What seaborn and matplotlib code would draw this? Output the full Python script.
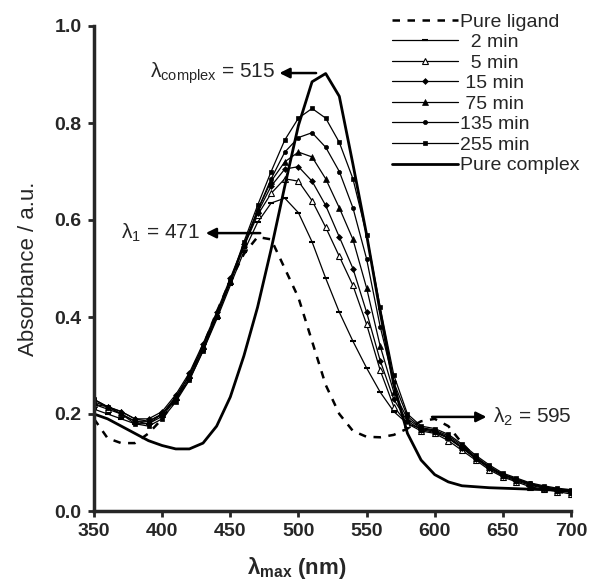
import matplotlib as mpl
import matplotlib.pyplot as plt
import numpy as np
import pandas as pd
import seaborn as sns

# wavelength grid (nm)
wavelength = np.arange(350, 701, 10)

pure_ligand = [0.19, 0.15, 0.14, 0.14, 0.16, 0.19, 0.23, 0.28, 0.34, 0.41, 0.475, 0.53,
               0.565, 0.56, 0.50, 0.44, 0.35, 0.26, 0.20, 0.165, 0.153, 0.152, 0.157, 0.17,
               0.185, 0.19, 0.175, 0.14, 0.11, 0.09, 0.075, 0.06, 0.05, 0.045, 0.04, 0.035]
min_2 = [0.21, 0.20, 0.19, 0.18, 0.18, 0.20, 0.23, 0.27, 0.33, 0.395, 0.465, 0.535,
         0.595, 0.635, 0.645, 0.615, 0.555, 0.48, 0.41, 0.35, 0.295, 0.245, 0.205, 0.18,
         0.17, 0.165, 0.15, 0.13, 0.11, 0.09, 0.075, 0.065, 0.055, 0.05, 0.045, 0.04]
min_5 = [0.22, 0.21, 0.20, 0.185, 0.185, 0.20, 0.235, 0.28, 0.34, 0.405, 0.475, 0.545,
         0.61, 0.655, 0.685, 0.68, 0.64, 0.585, 0.525, 0.465, 0.385, 0.29, 0.215, 0.18,
         0.165, 0.16, 0.145, 0.125, 0.105, 0.085, 0.07, 0.06, 0.05, 0.045, 0.04, 0.035]
min_15 = [0.22, 0.215, 0.205, 0.19, 0.19, 0.205, 0.24, 0.285, 0.345, 0.41, 0.48, 0.55,
          0.615, 0.67, 0.705, 0.71, 0.68, 0.63, 0.565, 0.50, 0.41, 0.31, 0.23, 0.185,
          0.168, 0.162, 0.15, 0.13, 0.108, 0.088, 0.072, 0.062, 0.053, 0.047, 0.042, 0.038]
min_75 = [0.225, 0.215, 0.205, 0.19, 0.185, 0.20, 0.235, 0.28, 0.34, 0.405, 0.475, 0.55,
          0.62, 0.68, 0.72, 0.74, 0.73, 0.685, 0.625, 0.56, 0.46, 0.34, 0.245, 0.19,
          0.17, 0.165, 0.152, 0.132, 0.11, 0.09, 0.074, 0.064, 0.055, 0.048, 0.043, 0.04]
min_135 = [0.23, 0.215, 0.20, 0.185, 0.18, 0.195, 0.23, 0.275, 0.335, 0.40, 0.47, 0.545,
           0.62, 0.685, 0.74, 0.77, 0.78, 0.75, 0.70, 0.625, 0.52, 0.38, 0.265, 0.195,
           0.172, 0.167, 0.155, 0.135, 0.112, 0.092, 0.076, 0.066, 0.057, 0.05, 0.045, 0.042]
min_255 = [0.23, 0.215, 0.20, 0.18, 0.175, 0.19, 0.225, 0.27, 0.33, 0.40, 0.475, 0.555,
           0.63, 0.70, 0.765, 0.81, 0.83, 0.81, 0.76, 0.685, 0.57, 0.42, 0.28, 0.20,
           0.175, 0.17, 0.158, 0.138, 0.115, 0.095, 0.078, 0.068, 0.058, 0.052, 0.047, 0.044]
pure_complex = [0.20, 0.19, 0.175, 0.16, 0.145, 0.135, 0.128, 0.128, 0.14, 0.175, 0.235, 0.32,
                0.42, 0.54, 0.67, 0.795, 0.885, 0.902, 0.855, 0.715, 0.57, 0.41, 0.26, 0.16,
                0.105, 0.075, 0.06, 0.052, 0.05, 0.048, 0.047, 0.046, 0.045, 0.044, 0.043, 0.042]

series_labels = ["Pure ligand", "  2 min", "  5 min", " 15 min", " 75 min",
                 "135 min", "255 min", "Pure complex"]
series_values = [pure_ligand, min_2, min_5, min_15, min_75, min_135, min_255, pure_complex]

lambda_complex = 515
lambda_1 = 471
lambda_2 = 595

sns.set_style("ticks")
plt.rcParams['font.family'] = ['Liberation Sans', 'DejaVu Sans']
plt.rcParams['mathtext.fontset'] = 'custom'
plt.rcParams['mathtext.rm'] = 'Liberation Sans'
plt.rcParams['mathtext.bf'] = 'Liberation Sans:bold'
plt.rcParams['mathtext.default'] = 'regular'

# line styles per series
styles = [
    dict(ls=(0, (3, 3)), lw=1.8, marker=None),
    dict(ls='-', lw=0.9, marker='_', ms=5, mew=1.5, mfc='black'),
    dict(ls='-', lw=0.9, marker='^', ms=4, mew=0.8, mfc='white'),
    dict(ls='-', lw=0.9, marker='D', ms=3, mew=0.5, mfc='black'),
    dict(ls='-', lw=0.9, marker='^', ms=4, mew=0.5, mfc='black'),
    dict(ls='-', lw=0.9, marker='o', ms=3, mew=0.5, mfc='black'),
    dict(ls='-', lw=0.9, marker='s', ms=3.5, mew=0.5, mfc='black'),
    dict(ls='-', lw=2.0, marker=None),
]

fig = plt.figure(figsize=(5.92, 5.84), dpi=100)
ax = fig.add_axes([94 / 592, 73 / 584, 477 / 592, 485 / 584])

for label, vals, st in zip(series_labels, series_values, styles):
    df = pd.DataFrame({'wavelength': wavelength, 'absorbance': vals})
    sns.lineplot(data=df, x='wavelength', y='absorbance', ax=ax, color='black',
                 linestyle=st['ls'], linewidth=st['lw'], marker=st['marker'],
                 markersize=st.get('ms', 0), markeredgewidth=st.get('mew', 0),
                 markerfacecolor=st.get('mfc', 'black'), markeredgecolor='black',
                 label=label, legend=False)

ax.set_xlim(350, 700)
ax.set_ylim(0, 1.0)
ax.set_xticks(np.arange(350, 701, 50))
ax.set_yticks(np.arange(0, 1.01, 0.2))
ax.set_yticklabels([f"{v:.1f}" for v in np.arange(0, 1.01, 0.2)])
ax.tick_params(axis='both', which='major', width=2, length=4, labelsize=14, pad=5)
for lab in ax.get_xticklabels() + ax.get_yticklabels():
    lab.set_fontweight('bold')
ax.spines['top'].set_visible(False)
ax.spines['right'].set_visible(False)
ax.spines['bottom'].set_linewidth(2.5)
ax.spines['left'].set_linewidth(2.5)

ax.set_ylabel('Absorbance / a.u.', fontsize=16)
ax.yaxis.set_label_coords(-0.115, 0.5)
ax.set_xlabel(r'λ$_{\mathbf{max}}$ (nm)', fontsize=16, fontweight='bold')
ax.xaxis.set_label_coords(0.425, -0.09)

# annotations with arrows
arrow = dict(arrowstyle='-|>', color='black', lw=1.8, mutation_scale=15)
ax.annotate('', xy=(484, 0.903), xytext=(lambda_complex, 0.903), arrowprops=arrow)
ax.text(483, 0.903, r'λ$_{\mathrm{complex}}$ = ' + str(lambda_complex), ha='right', va='center', fontsize=15)
ax.annotate('', xy=(430, 0.573), xytext=(474, 0.573), arrowprops=arrow)
ax.text(428, 0.573, r'λ$_{1}$ = ' + str(lambda_1), ha='right', va='center', fontsize=15)
ax.annotate('', xy=(640, 0.194), xytext=(596, 0.194), arrowprops=arrow)
ax.text(643, 0.194, r'λ$_{2}$ = ' + str(lambda_2), ha='left', va='center', fontsize=15)

handles, labels = ax.get_legend_handles_labels()
leg = ax.legend(handles, labels, loc='upper left', bbox_to_anchor=(392 / 592, 1 - 13 / 584),
                bbox_transform=fig.transFigure, frameon=False, fontsize=14,
                handlelength=3.4, handletextpad=0.12, labelspacing=0.15,
                borderaxespad=0, borderpad=0, markerscale=1.0)

fig.savefig('out.png', dpi=100)
